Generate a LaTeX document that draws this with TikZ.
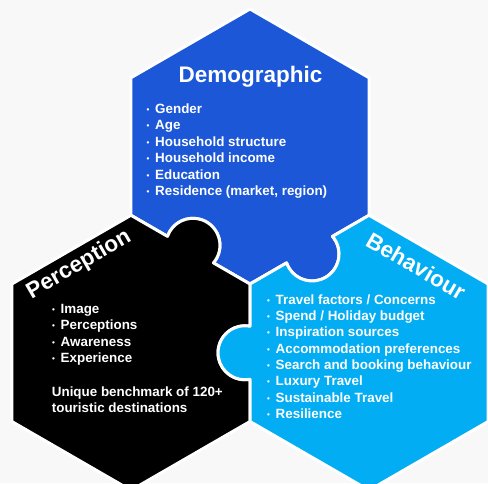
\documentclass[tikz,border=0pt]{standalone}
\usepackage{fontspec}
\setmainfont{Liberation Sans}
\usepackage{xcolor}
\usepackage{graphicx}
\usetikzlibrary{calc}

\definecolor{demoblue}{HTML}{1B57D7}
\definecolor{behavblue}{HTML}{03ADF3}
\definecolor{bggray}{HTML}{F8F8F8}

\newcommand{\itm}{\makebox[8.5pt][l]{\raisebox{0.08em}{\scalebox{0.6}{•}}}}

\begin{document}
\begin{tikzpicture}[x=1pt, y=-1pt,
	piece/.style={draw=white, line width=3pt, line join=round},
	ttl/.style={text=white, font=\bfseries\fontsize{22.5}{26}\selectfont, inner sep=0pt},
	listitem/.style={text=white, font=\bfseries\fontsize{13.4}{16}\selectfont, inner sep=0pt, anchor=base west}]
	% background
	\fill[bggray] (0,0) rectangle (488,483);
	\clip (0,0) rectangle (488,483);

	% hexagon centres and knob centres
	\coordinate (cB) at (250,146.5);
	\coordinate (cK) at (130.92,352.75);
	\coordinate (cL) at (369.08,352.75);
	\coordinate (k1) at (192.96,245.29);
	\coordinate (k2) at (245,352.75);
	\coordinate (k3) at (312.04,253.96);

	% Demographic piece
	\filldraw[piece, fill=demoblue] ($(cB)+(-90:137.5)$) -- ($(cB)+(-30:137.5)$) -- ($(cB)+(30:137.5)$)
		-- ($(k3)+(-40.67:27)$) arc[start angle=-40.67, end angle=160.67, radius=27]
		-- ($(cB)+(90:137.5)$)
		-- ($(k1)+(40.67:27)$) arc[start angle=40.67, end angle=-160.67, radius=27]
		-- ($(cB)+(150:137.5)$) -- ($(cB)+(210:137.5)$) -- cycle;

	% Perception piece
	\filldraw[piece, fill=black] ($(cK)+(-90:137.5)$)
		-- ($(k1)+(-160.67:27)$) arc[start angle=-160.67, end angle=40.67, radius=27]
		-- ($(cK)+(-30:137.5)$)
		-- ($(k2)+(280.67:27)$) arc[start angle=280.67, end angle=79.33, radius=27]
		-- ($(cK)+(30:137.5)$) -- ($(cK)+(90:137.5)$) -- ($(cK)+(150:137.5)$)
		-- ($(cK)+(210:137.5)$) -- cycle;

	% Behaviour piece
	\filldraw[piece, fill=behavblue] ($(cL)+(-90:137.5)$) -- ($(cL)+(-30:137.5)$) -- ($(cL)+(30:137.5)$)
		-- ($(cL)+(90:137.5)$) -- ($(cL)+(150:137.5)$)
		-- ($(k2)+(79.33:27)$) arc[start angle=79.33, end angle=280.67, radius=27]
		-- ($(cL)+(210:137.5)$)
		-- ($(k3)+(160.67:27)$) arc[start angle=160.67, end angle=-40.67, radius=27]
		-- cycle;

	% titles
	\node[ttl, anchor=base] (demo) at (250.5,82.5) {Demographic};
	\node[ttl, rotate=30] (perc) at (79,265) {Perception};
	\node[ttl, rotate=-30] (behav) at (416,266) {Behaviour};

	% Demographic list
	\node[listitem] (d1) at (146.5,113.5) {\itm Gender};
	\node[listitem] (d2) at (146.5,129.9) {\itm Age};
	\node[listitem] (d3) at (146.5,146.3) {\itm Household structure};
	\node[listitem] (d4) at (146.5,162.7) {\itm Household income};
	\node[listitem] (d5) at (146.5,179.1) {\itm Education};
	\node[listitem] (d6) at (146.5,195.5) {\itm Residence (market, region)};

	% Perception list
	\node[listitem] (p1) at (52,313.5) {\itm Image};
	\node[listitem] (p2) at (52,329.8) {\itm Perceptions};
	\node[listitem] (p3) at (52,346.1) {\itm Awareness};
	\node[listitem] (p4) at (52,362.4) {\itm Experience};
	\node[listitem] (p5) at (51.7,396.5) {Unique benchmark of 120+};
	\node[listitem] (p6) at (51.7,412.5) {touristic destinations};

	% Behaviour list
	\node[listitem] (b1) at (267,304.3) {\itm Travel factors / Concerns};
	\node[listitem] (b2) at (267,320.6) {\itm Spend / Holiday budget};
	\node[listitem] (b3) at (267,336.9) {\itm Inspiration sources};
	\node[listitem] (b4) at (267,353.2) {\itm Accommodation preferences};
	\node[listitem] (b5) at (267,369.5) {\itm Search and booking behaviour};
	\node[listitem] (b6) at (267,385.8) {\itm Luxury Travel};
	\node[listitem] (b7) at (267,402.1) {\itm Sustainable Travel};
	\node[listitem] (b8) at (267,418.4) {\itm Resilience};
\end{tikzpicture}
\end{document}
